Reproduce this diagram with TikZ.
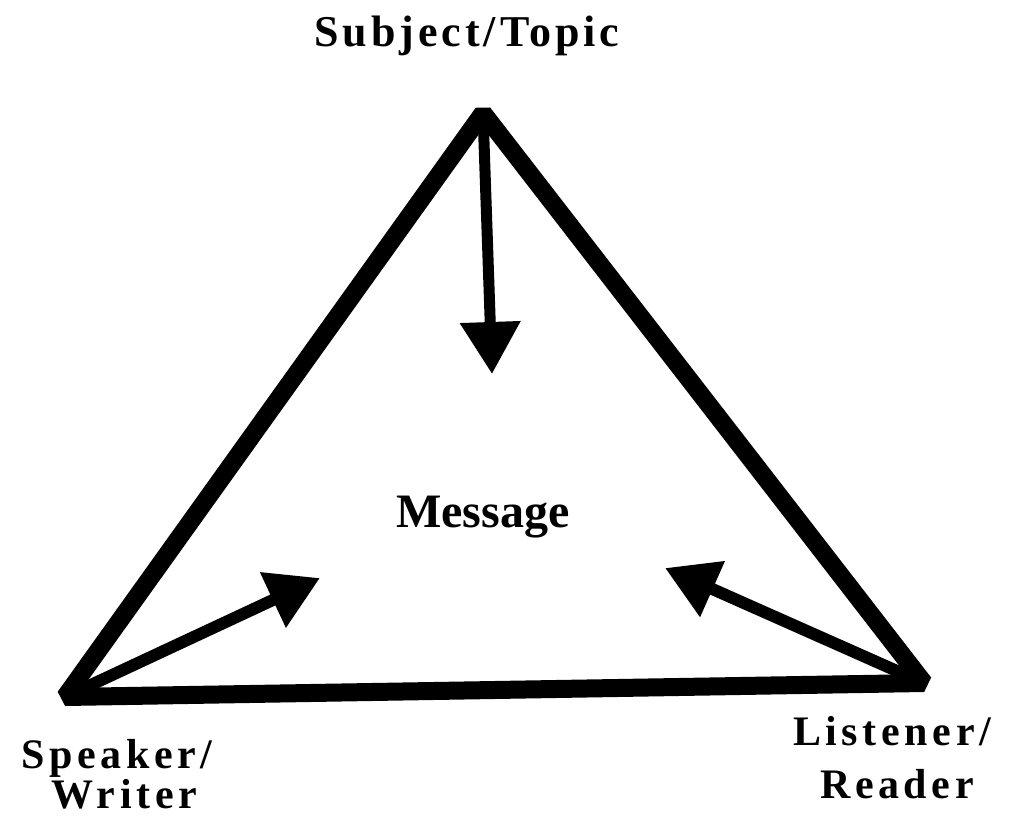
\documentclass[tikz,border=0pt]{standalone}
\usepackage{fontspec}
\setmainfont{Liberation Serif}
\usetikzlibrary{arrows.meta}
\begin{document}
\begin{tikzpicture}[x=1pt,y=-1pt,
  edge/.style={line width=18pt, line join=bevel},
  flow/.style={line width=12pt, -{Triangle[length=52pt 0 0, width=58pt 0 0]}},
  toplabel/.style={font=\fontsize{44}{48}\selectfont\bfseries\addfontfeature{LetterSpace=9}, anchor=base, inner sep=0pt},
  cornerlabel/.style={font=\fontsize{42}{46}\selectfont\bfseries\addfontfeature{LetterSpace=11}, anchor=base, inner sep=0pt},
  midlabel/.style={font=\fontsize{48}{52}\selectfont\bfseries, anchor=base, inner sep=0pt}]
  \useasboundingbox (0,0) rectangle (1014,824);
  \fill[white] (0,0) rectangle (1014,824);

  % vertices of the triangle
  \coordinate (T) at (483,113);
  \coordinate (L) at (65,697);
  \coordinate (R) at (924,683);

  % arrow tips inside the triangle
  \coordinate (tT) at (492,374);
  \coordinate (tL) at (320,578);
  \coordinate (tR) at (665,568);

  \draw[edge] (T) -- (L) -- (R) -- cycle;

  \draw[flow, line width=11pt] (T) -- (tT);
  \draw[flow] (L) -- (tL);
  \draw[flow] (R) -- (tR);

  \node[toplabel] (subj) at (467,47) {Subject/Topic};
  \node[midlabel] (msg) at (483,527) {Message};
  \node[cornerlabel] (spk) at (117,768) {Speaker/};
  \node[cornerlabel] (wrt) at (124,808) {Writer};
  \node[cornerlabel] (lst) at (892,745) {Listener/};
  \node[cornerlabel] (rdr) at (897,798) {Reader};
\end{tikzpicture}
\end{document}
